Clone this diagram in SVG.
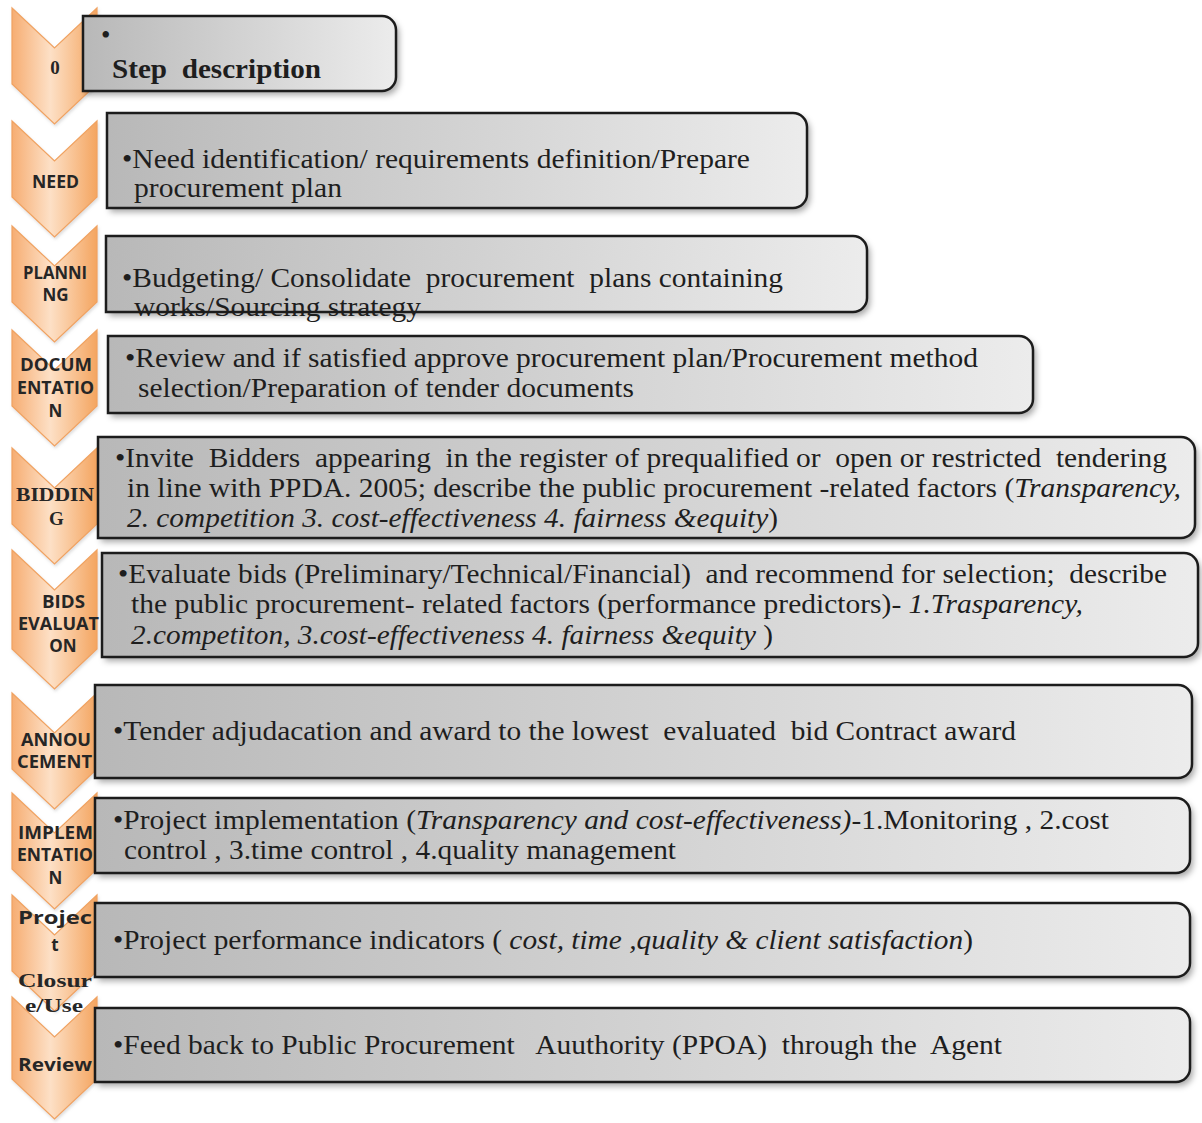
<svg xmlns="http://www.w3.org/2000/svg" width="1202" height="1123" viewBox="0 0 1202 1123">
<defs>
<linearGradient id="gb" x1="0" y1="0" x2="1" y2="0">
<stop offset="0" stop-color="#b8b8b8"/>
<stop offset="1" stop-color="#ececec"/>
</linearGradient>
<linearGradient id="go" x1="0" y1="0" x2="1" y2="0">
<stop offset="0" stop-color="#f6ad72"/>
<stop offset="0.45" stop-color="#fde0c6"/>
<stop offset="1" stop-color="#f4a560"/>
</linearGradient>
<filter id="sh" x="-5%" y="-20%" width="110%" height="150%">
<feDropShadow dx="3" dy="4" stdDeviation="3" flood-color="#000" flood-opacity="0.35"/>
</filter>
<filter id="sc" x="-20%" y="-10%" width="140%" height="130%">
<feDropShadow dx="1" dy="2" stdDeviation="1.5" flood-color="#a0a0a0" flood-opacity="0.35"/>
</filter>
</defs>
<style>
.box{fill:url(#gb);filter:url(#sh)}
.bo{fill:none;stroke:#1c1c1c;stroke-width:2.5}
.chev{fill:url(#go);stroke:#f0a260;stroke-width:1.2;filter:url(#sc)}
.lb{font-family:"Open Sans","Liberation Sans",sans-serif;font-weight:700;font-size:17px;fill:#262626;text-anchor:middle}
.ls{font-family:"Liberation Serif","Times New Roman",serif;font-weight:700;font-size:19px;fill:#262626;text-anchor:middle}
.t{font-family:"Liberation Serif","Times New Roman",serif;font-size:27px;fill:#1e1e1e;white-space:pre}
.i{font-style:italic}
</style>
<rect width="1202" height="1123" fill="#ffffff"/>

<g id="step-0">
<path class="chev" d="M12,8 L54.5,48 L97,8 L97,84 L54.5,124 L12,84 Z"/>
<text class="ls" x="55" y="74" font-size="18">0</text>
<path class="box" d="M83,16 H382 A14,14 0 0 1 396,30 V77 A14,14 0 0 1 382,91 H83 Z"/>
<text class="t" x="101" y="44" font-size="20">•</text>
<text class="t" x="112" y="78" font-size="26" font-weight="700" textLength="209" lengthAdjust="spacingAndGlyphs">Step  description</text>
<path class="bo" d="M83,16 H382 A14,14 0 0 1 396,30 V77 A14,14 0 0 1 382,91 H83 Z"/>
</g>

<g id="step-need">
<path class="chev" d="M12,121 L54.5,161 L97,121 L97,197 L54.5,237 L12,197 Z"/>
<text class="lb" x="55.5" y="188" textLength="47" lengthAdjust="spacingAndGlyphs">NEED</text>
<path class="box" d="M107,113 H793 A14,14 0 0 1 807,127 V194 A14,14 0 0 1 793,208 H107 Z"/>
<text class="t" x="122" y="168" textLength="628" lengthAdjust="spacingAndGlyphs">•Need identification/ requirements definition/Prepare</text>
<text class="t" x="134" y="197" textLength="208" lengthAdjust="spacingAndGlyphs">procurement plan</text>
<path class="bo" d="M107,113 H793 A14,14 0 0 1 807,127 V194 A14,14 0 0 1 793,208 H107 Z"/>
</g>

<g id="step-planning">
<path class="chev" d="M12,226 L54.5,266 L97,226 L97,302 L54.5,342 L12,302 Z"/>
<text class="lb" x="55" y="279" textLength="64" lengthAdjust="spacingAndGlyphs">PLANNI</text>
<text class="lb" x="55.5" y="301">NG</text>
<path class="box" d="M106,236 H853 A14,14 0 0 1 867,250 V298 A14,14 0 0 1 853,312 H106 Z"/>
<text class="t" x="122" y="287" textLength="661" lengthAdjust="spacingAndGlyphs">•Budgeting/ Consolidate  procurement  plans containing</text>
<text class="t" x="134" y="316" textLength="287" lengthAdjust="spacingAndGlyphs">works/Sourcing strategy</text>
<path class="bo" d="M106,236 H853 A14,14 0 0 1 867,250 V298 A14,14 0 0 1 853,312 H106 Z"/>
</g>

<g id="step-documentation">
<path class="chev" d="M12,330 L54.5,370 L97,330 L97,406 L54.5,446 L12,406 Z"/>
<text class="lb" x="56" y="371" textLength="72" lengthAdjust="spacingAndGlyphs">DOCUM</text>
<text class="lb" x="55.5" y="394" textLength="77" lengthAdjust="spacingAndGlyphs">ENTATIO</text>
<text class="lb" x="55.5" y="417">N</text>
<path class="box" d="M108,336 H1019 A14,14 0 0 1 1033,350 V399 A14,14 0 0 1 1019,413 H108 Z"/>
<text class="t" x="125" y="367" textLength="853" lengthAdjust="spacingAndGlyphs">•Review and if satisfied approve procurement plan/Procurement method</text>
<text class="t" x="138" y="397" textLength="496" lengthAdjust="spacingAndGlyphs">selection/Preparation of tender documents</text>
<path class="bo" d="M108,336 H1019 A14,14 0 0 1 1033,350 V399 A14,14 0 0 1 1019,413 H108 Z"/>
</g>

<g id="step-bidding">
<path class="chev" d="M12,448 L54.5,488 L97,448 L97,524 L54.5,564 L12,524 Z"/>
<text class="ls" x="55" y="501" textLength="78" lengthAdjust="spacingAndGlyphs">BIDDIN</text>
<text class="ls" x="56.5" y="525">G</text>
<path class="box" d="M98,437 H1181 A14,14 0 0 1 1195,451 V524 A14,14 0 0 1 1181,538 H98 Z"/>
<text class="t" x="115" y="467" textLength="1052" lengthAdjust="spacingAndGlyphs">•Invite  Bidders  appearing  in the register of prequalified or  open or restricted  tendering</text>
<text class="t" x="127" y="497" textLength="1054" lengthAdjust="spacingAndGlyphs">in line with PPDA. 2005; describe the public procurement -related factors (<tspan class="i">Transparency,</tspan></text>
<text class="t" x="127" y="527" textLength="651" lengthAdjust="spacingAndGlyphs"><tspan class="i">2. competition 3. cost-effectiveness 4. fairness &amp;equity</tspan>)</text>
<path class="bo" d="M98,437 H1181 A14,14 0 0 1 1195,451 V524 A14,14 0 0 1 1181,538 H98 Z"/>
</g>

<g id="step-bids-evaluation">
<path class="chev" d="M12,550 L54.5,590 L97,550 L97,649 L54.5,689 L12,649 Z"/>
<text class="lb" x="63.5" y="608" textLength="43" lengthAdjust="spacingAndGlyphs">BIDS</text>
<text class="lb" x="58.5" y="630" textLength="81" lengthAdjust="spacingAndGlyphs">EVALUAT</text>
<text class="lb" x="63" y="652">ON</text>
<path class="box" d="M102,553 H1184 A14,14 0 0 1 1198,567 V643 A14,14 0 0 1 1184,657 H102 Z"/>
<text class="t" x="118" y="583" textLength="1049" lengthAdjust="spacingAndGlyphs">•Evaluate bids (Preliminary/Technical/Financial)  and recommend for selection;  describe</text>
<text class="t" x="131" y="613" textLength="952" lengthAdjust="spacingAndGlyphs">the public procurement- related factors (performance predictors)- <tspan class="i">1.Trasparency,</tspan></text>
<text class="t" x="131" y="644" textLength="642" lengthAdjust="spacingAndGlyphs"><tspan class="i">2.competiton, 3.cost-effectiveness 4. fairness &amp;equity</tspan> )</text>
<path class="bo" d="M102,553 H1184 A14,14 0 0 1 1198,567 V643 A14,14 0 0 1 1184,657 H102 Z"/>
</g>

<g id="step-announcement">
<path class="chev" d="M12,693 L54.5,733 L97,693 L97,769 L54.5,809 L12,769 Z"/>
<text class="lb" x="56" y="746" textLength="70" lengthAdjust="spacingAndGlyphs">ANNOU</text>
<text class="lb" x="54.5" y="768" textLength="75" lengthAdjust="spacingAndGlyphs">CEMENT</text>
<path class="box" d="M95,685 H1178 A14,14 0 0 1 1192,699 V764 A14,14 0 0 1 1178,778 H95 Z"/>
<text class="t" x="113" y="740" textLength="903" lengthAdjust="spacingAndGlyphs">•Tender adjudacation and award to the lowest  evaluated  bid Contract award</text>
<path class="bo" d="M95,685 H1178 A14,14 0 0 1 1192,699 V764 A14,14 0 0 1 1178,778 H95 Z"/>
</g>

<g id="step-implementation">
<path class="chev" d="M12,793 L54.5,833 L97,793 L97,869 L54.5,909 L12,869 Z"/>
<text class="lb" x="55.5" y="839" textLength="75" lengthAdjust="spacingAndGlyphs">IMPLEM</text>
<text class="lb" x="55" y="861" textLength="76" lengthAdjust="spacingAndGlyphs">ENTATIO</text>
<text class="lb" x="55.5" y="884">N</text>
<path class="box" d="M95,798 H1176 A14,14 0 0 1 1190,812 V859 A14,14 0 0 1 1176,873 H95 Z"/>
<text class="t" x="113" y="829" textLength="996" lengthAdjust="spacingAndGlyphs">•Project implementation (<tspan class="i">Transparency and cost-effectiveness)</tspan>-1.Monitoring , 2.cost</text>
<text class="t" x="124" y="859" textLength="552" lengthAdjust="spacingAndGlyphs">control , 3.time control , 4.quality management</text>
<path class="bo" d="M95,798 H1176 A14,14 0 0 1 1190,812 V859 A14,14 0 0 1 1176,873 H95 Z"/>
</g>

<g id="step-closure">
<path class="chev" d="M12,895 L54.5,935 L97,895 L97,971 L54.5,1011 L12,971 Z"/>
<text class="lb" x="55" y="924" font-size="21" textLength="74" lengthAdjust="spacingAndGlyphs">Projec</text>
<text class="lb" x="55" y="951" font-size="21">t</text>
<text class="ls" x="55" y="987" font-size="21" textLength="74" lengthAdjust="spacingAndGlyphs">Closur</text>
<text class="ls" x="54" y="1012" font-size="20" textLength="58" lengthAdjust="spacingAndGlyphs">e/Use</text>
<path class="box" d="M95,903 H1176 A14,14 0 0 1 1190,917 V963 A14,14 0 0 1 1176,977 H95 Z"/>
<text class="t" x="113" y="949" textLength="860" lengthAdjust="spacingAndGlyphs">•Project performance indicators ( <tspan class="i">cost, time ,quality &amp; client satisfaction</tspan>)</text>
<path class="bo" d="M95,903 H1176 A14,14 0 0 1 1190,917 V963 A14,14 0 0 1 1176,977 H95 Z"/>
</g>

<g id="step-review">
<path class="chev" d="M12,997 L54.5,1037 L97,997 L97,1079 L54.5,1119 L12,1079 Z"/>
<text class="lb" x="55" y="1071" textLength="74" lengthAdjust="spacingAndGlyphs">Review</text>
<path class="box" d="M95,1008 H1176 A14,14 0 0 1 1190,1022 V1068 A14,14 0 0 1 1176,1082 H95 Z"/>
<text class="t" x="113" y="1054" textLength="889" lengthAdjust="spacingAndGlyphs">•Feed back to Public Procurement   Auuthority (PPOA)  through the  Agent</text>
<path class="bo" d="M95,1008 H1176 A14,14 0 0 1 1190,1022 V1068 A14,14 0 0 1 1176,1082 H95 Z"/>
</g>

<g id="connectors"></g>
</svg>
